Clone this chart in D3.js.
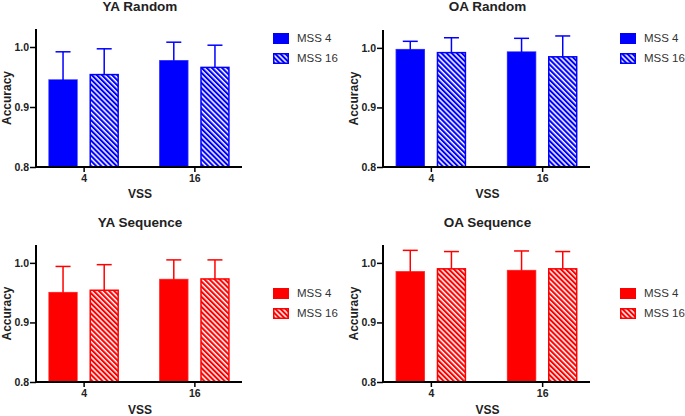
<!DOCTYPE html>
<html>
<head>
<meta charset="utf-8">
<script src="https://cdn.jsdelivr.net/npm/d3@7"></script>
<style>
  html, body { margin: 0; padding: 0; background: #fff; }
  svg { display: block; font-family: "Liberation Sans", Arial, Helvetica, sans-serif; }
</style>
</head>
<body>
<svg id="chart" width="685" height="416"></svg>
<script>
// ---- data ----
const vssCategories = ["4", "16"];
const seriesNames = ["MSS 4", "MSS 16"];
const yTicks = [0.8, 0.9, 1.0];

const panelTitles = ["YA Random", "OA Random", "YA Sequence", "OA Sequence"];
const panelColors = ["#0000ff", "#0000ff", "#ff0000", "#ff0000"];

// means per series, across VSS categories
const yaRandomMSS4 = [0.945, 0.977];
const yaRandomMSS16 = [0.954, 0.966];
const yaRandomErr4 = [0.047, 0.031];
const yaRandomErr16 = [0.043, 0.037];

const oaRandomMSS4 = [0.997, 0.993];
const oaRandomMSS16 = [0.992, 0.985];
const oaRandomErr4 = [0.014, 0.023];
const oaRandomErr16 = [0.025, 0.035];

const yaSeqMSS4 = [0.950, 0.972];
const yaSeqMSS16 = [0.954, 0.973];
const yaSeqErr4 = [0.044, 0.033];
const yaSeqErr16 = [0.043, 0.032];

const oaSeqMSS4 = [0.985, 0.987];
const oaSeqMSS16 = [0.990, 0.990];
const oaSeqErr4 = [0.036, 0.033];
const oaSeqErr16 = [0.029, 0.029];

const panelMeans = [
  [yaRandomMSS4, yaRandomMSS16],
  [oaRandomMSS4, oaRandomMSS16],
  [yaSeqMSS4, yaSeqMSS16],
  [oaSeqMSS4, oaSeqMSS16]
];
const panelErrs = [
  [yaRandomErr4, yaRandomErr16],
  [oaRandomErr4, oaRandomErr16],
  [yaSeqErr4, yaSeqErr16],
  [oaSeqErr4, oaSeqErr16]
];

// ---- layout (pixels) ----
const layout = [
  { x0: 36,  x1: 242, yTop: 29,  yBot: 167, titleY: 11,  legendY: 33,  vssY: 198 },
  { x0: 383, x1: 590, yTop: 30,  yBot: 167, titleY: 11,  legendY: 33,  vssY: 198 },
  { x0: 36,  x1: 242, yTop: 245, yBot: 382, titleY: 227, legendY: 288, vssY: 414 },
  { x0: 383, x1: 590, yTop: 245, yBot: 382, titleY: 227, legendY: 288, vssY: 414 }
];

const svg = d3.select("#chart");
const defs = svg.append("defs");

function hatchId(color) {
  const id = "hatch-" + color.replace("#", "");
  if (defs.select("#" + id).empty()) {
    const p = defs.append("pattern")
      .attr("id", id)
      .attr("patternUnits", "userSpaceOnUse")
      .attr("width", 3.6).attr("height", 3.6)
      .attr("patternTransform", "rotate(45)");
    p.append("rect").attr("width", 3.6).attr("height", 3.6).attr("fill", color);
    p.append("rect").attr("width", 3.6).attr("height", 1.5).attr("fill", "#fff");
  }
  return "url(#" + id + ")";
}

panelTitles.forEach((title, pi) => {
  const L = layout[pi];
  const color = panelColors[pi];
  const g = svg.append("g");

  const y = d3.scaleLinear().domain([0.8, 1.03]).range([L.yBot, L.yTop]);
  const x = d3.scalePoint().domain(vssCategories).range([L.x0, L.x1]).padding(0.43);
  const xs = d3.scaleBand().domain(seriesNames).range([-35.3, 35.3]).paddingInner(0.285).paddingOuter(0);

  seriesNames.forEach((s, si) => {
    const means = panelMeans[pi][si];
    const errs = panelErrs[pi][si];
    const data = vssCategories.map((c, ci) => ({ c, m: means[ci], e: errs[ci] }));
    const fill = si === 0 ? color : hatchId(color);

    const eg = g.append("g");
    eg.selectAll("line.v").data(data).join("line")
      .attr("x1", d => x(d.c) + xs(s) + xs.bandwidth() / 2)
      .attr("x2", d => x(d.c) + xs(s) + xs.bandwidth() / 2)
      .attr("y1", d => y(d.m))
      .attr("y2", d => y(d.m + d.e))
      .attr("stroke", color).attr("stroke-width", 1.5);
    eg.selectAll("line.c").data(data).join("line")
      .attr("x1", d => x(d.c) + xs(s) + xs.bandwidth() / 2 - 7.5)
      .attr("x2", d => x(d.c) + xs(s) + xs.bandwidth() / 2 + 7.5)
      .attr("y1", d => y(d.m + d.e))
      .attr("y2", d => y(d.m + d.e))
      .attr("stroke", color).attr("stroke-width", 1.5);

    g.append("g").selectAll("rect").data(data).join("rect")
      .attr("x", d => x(d.c) + xs(s) + 0.75)
      .attr("width", xs.bandwidth() - 1.5)
      .attr("y", d => y(d.m))
      .attr("height", d => y(0.8) - y(d.m))
      .attr("fill", fill)
      .attr("stroke", color)
      .attr("stroke-width", 1.5)
      .attr("stroke-opacity", si === 0 ? 0.75 : 1);
  });

  const yAxis = g.append("g")
    .attr("transform", `translate(${L.x0},0)`)
    .call(d3.axisLeft(y).tickValues(yTicks).tickFormat(d3.format(".1f")).tickSize(6).tickPadding(1));
  yAxis.select(".domain").attr("d", `M0,${L.yTop}V${L.yBot}`).attr("stroke-width", 2);
  yAxis.selectAll(".tick line").attr("stroke-width", 1.5);
  yAxis.selectAll(".tick text").attr("font-size", 10.5).attr("font-weight", "bold")
    .attr("font-family", "Liberation Sans, Arial, sans-serif").attr("fill", "#222");

  const xAxis = g.append("g")
    .attr("transform", `translate(0,${L.yBot})`)
    .call(d3.axisBottom(x).tickSize(5).tickPadding(3));
  xAxis.select(".domain").attr("d", `M${L.x0 - 1},0H${L.x1}`).attr("stroke-width", 2);
  xAxis.selectAll(".tick line").attr("stroke-width", 1.5);
  xAxis.selectAll(".tick text").attr("font-size", 10.5).attr("font-weight", "bold")
    .attr("font-family", "Liberation Sans, Arial, sans-serif").attr("fill", "#222");

  g.append("text")
    .attr("x", (L.x0 + L.x1) / 2 + 1)
    .attr("y", L.titleY)
    .attr("text-anchor", "middle")
    .attr("font-size", 13.5).attr("font-weight", "bold").attr("fill", "#222")
    .text(title);

  g.append("text")
    .attr("x", (L.x0 + L.x1) / 2 + 1)
    .attr("y", L.vssY)
    .attr("text-anchor", "middle")
    .attr("font-size", 12).attr("font-weight", "bold").attr("fill", "#222")
    .text("VSS");
  g.append("text")
    .attr("transform", `translate(${L.x0 - 25},${(L.yTop + L.yBot) / 2}) rotate(-90)`)
    .attr("text-anchor", "middle")
    .attr("font-size", 12).attr("font-weight", "bold").attr("fill", "#222")
    .text("Accuracy");

  const lg = g.append("g").attr("transform", `translate(${L.x0 + 237},${L.legendY})`);
  seriesNames.forEach((s, si) => {
    const row = lg.append("g").attr("transform", `translate(0,${si * 20})`);
    row.append("rect")
      .attr("x", 0.75).attr("y", 0.75)
      .attr("width", 14.5).attr("height", 9.5)
      .attr("fill", si === 0 ? color : hatchId(color))
      .attr("stroke", color).attr("stroke-width", 1.5);
    row.append("text")
      .attr("x", 24).attr("y", 5.5)
      .attr("dominant-baseline", "middle")
      .attr("font-size", 11.5).attr("fill", "#333")
      .text(s);
  });
});
</script>
</body>
</html>
